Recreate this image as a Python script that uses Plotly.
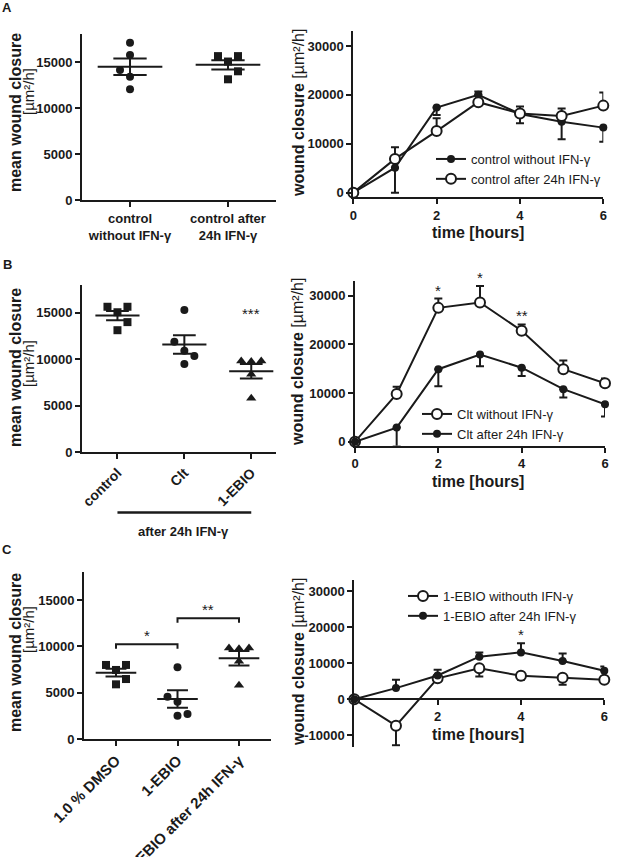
import numpy as np
import plotly.graph_objects as go

W, H = 620, 857
FONT = "Liberation Sans, Arial, Helvetica, sans-serif"
INK = "#1a1a1a"

# ---------------- DATA ----------------
# Panel A, left: individual mean wound closure values (µm²/h)
A_CATS = ["control<br>without IFN-γ", "control after<br>24h IFN-γ"]
A_WITHOUT = [12030, 13400, 14130, 15760, 17100]
A_AFTER = [13120, 13990, 15050, 15640, 15640]

# Panel A, right: time course (mean, SEM)
TIME = [0, 1, 2, 3, 4, 5, 6]
A_TS_WITHOUT = [0, 5100, 17400, 20000, 16100, 14500, 13300]
A_TS_WITHOUT_SEM = [0, 5100, 1500, 1000, 1900, 3600, 2900]
A_TS_AFTER = [0, 6900, 12600, 18500, 16200, 15700, 17800]
A_TS_AFTER_SEM = [0, 2400, 2600, 2200, 1400, 1500, 2700]

# Panel B, left
B_CATS = ["control", "Clt", "1-EBIO"]
B_CONTROL = [13120, 13990, 15050, 15640, 15640]
B_CLT = [9490, 10350, 10920, 11880, 15290]
B_EBIO = [5800, 8380, 9750, 9810, 9810]
B_SIG = ["", "*", "***"]
B_SIG_Y = [None, 18400, 14900]

# Panel B, right
B_TS_WITHOUT = [0, 9800, 27500, 28600, 22800, 14900, 12000]
B_TS_WITHOUT_SEM = [0, 1500, 1900, 3400, 1300, 1800, 1000]
B_TS_AFTER = [0, 2900, 14900, 17900, 15200, 10800, 7700]
B_TS_AFTER_SEM = [0, 3900, 3500, 2400, 1700, 1700, 2500]
B_TS_SIG = ["", "", "*", "*", "**", "", ""]

# Panel C, left
C_CATS = ["1.0 % DMSO", "1-EBIO", "1-EBIO after 24h IFN-γ"]
C_DMSO = [5900, 6470, 7450, 7990, 7990]
C_EBIO = [2520, 2700, 4030, 4570, 7740]
C_EBIO_IFN = [5800, 8380, 9750, 9810, 9810]
C_BRACKETS = [(0, 1, "*", 10220), (1, 2, "**", 13020)]

# Panel C, right
C_TS_WITHOUT = [0, -7300, 5800, 8600, 6500, 6000, 5400]
C_TS_WITHOUT_SEM = [0, 5400, 800, 2300, 1100, 2000, 600]
C_TS_AFTER = [0, 3100, 6600, 11800, 13000, 10600, 7900]
C_TS_AFTER_SEM = [0, 2300, 1600, 1200, 2500, 2100, 1200]
C_TS_SIG = ["", "", "", "", "*", "", ""]

# ---------------- GEOMETRY (pixels) ----------------
GEO = {
    1: dict(x=(82, 276), y=(34.4, 200.0), xr=(-0.49, 1.49), yr=(0, 18000)),
    2: dict(x=(353.3, 603.3), y=(31.3, 197.3), xr=(0, 6), yr=(-950, 33000)),
    3: dict(x=(82, 276), y=(284.8, 452.3), xr=(-0.53, 2.37), yr=(0, 18000)),
    4: dict(x=(355, 605), y=(281.1, 445.7), xr=(0, 6), yr=(-820, 33000)),
    5: dict(x=(84, 271), y=(572.2, 739.0), xr=(-0.52, 2.52), yr=(0, 18000)),
    6: dict(x=(354.3, 604.3), y=(580, 746.7), xr=(0, 6), yr=(-13130, 33050)),
}


def xdom(g):
    return [g["x"][0] / W, g["x"][1] / W]


def ydom(g):
    return [1 - g["y"][1] / H, 1 - g["y"][0] / H]


def axname(i):
    return ("x" if i == 1 else f"x{i}", "y" if i == 1 else f"y{i}")


def px_per_y(g):
    return (g["y"][1] - g["y"][0]) / (g["yr"][1] - g["yr"][0])


def px_per_x(g):
    return (g["x"][1] - g["x"][0]) / (g["xr"][1] - g["xr"][0])


def val_to_py(g, v):
    return g["y"][1] - (v - g["yr"][0]) * px_per_y(g)


fig = go.Figure()

# ---------------- scatter (dot) panels ----------------
def swarm(values, g, first_side=1, d_px=10.0, thr_px=10.0):
    """Greedy beeswarm: place points at centre, else shift sideways."""
    ky = px_per_y(g)
    kx = px_per_x(g)
    order = np.argsort(values, kind="stable")
    placed = []
    offs = [0.0] * len(values)
    side = first_side
    for i in order:
        y = values[i] * ky
        chosen = 0
        for c in [0, side, -side, 2 * side, -2 * side]:
            x = c * d_px
            if all(np.hypot(x - px_, y - py_) >= thr_px for px_, py_ in placed):
                chosen = c
                break
        if chosen != 0:
            side = -side
        placed.append((chosen * d_px, y))
        offs[i] = chosen * d_px / kx
    return offs


def dot_panel(idx, groups, symbols, first_sides):
    g = GEO[idx]
    xa, ya = axname(idx)
    for i, (vals, sym, fs) in enumerate(zip(groups, symbols, first_sides)):
        offs = swarm(vals, g, fs)
        size = 9 if "triangle" in sym else 8
        fig.add_trace(go.Scatter(
            x=[i + o for o in offs], y=vals, mode="markers",
            marker=dict(symbol=sym, size=size, color=INK, line=dict(width=0)),
            xaxis=xa, yaxis=ya, showlegend=False, cliponaxis=False, hoverinfo="skip"))
        m = float(np.mean(vals))
        s = float(np.std(vals, ddof=1) / np.sqrt(len(vals)))
        fig.add_trace(go.Scatter(
            x=[i - 0.33, i + 0.33], y=[m, m], mode="lines",
            line=dict(color=INK, width=2), xaxis=xa, yaxis=ya,
            showlegend=False, hoverinfo="skip"))
        fig.add_trace(go.Scatter(
            x=[i - 0.17, i + 0.17, None, i, i, None, i - 0.17, i + 0.17],
            y=[m + s, m + s, None, m + s, m - s, None, m - s, m - s],
            mode="lines", line=dict(color=INK, width=2), xaxis=xa, yaxis=ya,
            showlegend=False, hoverinfo="skip"))


dot_panel(1, [A_WITHOUT, A_AFTER], ["circle", "square"], [-1, 1])
dot_panel(3, [B_CONTROL, B_CLT, B_EBIO], ["square", "circle", "triangle-up"], [1, 1, 1])
dot_panel(5, [C_DMSO, C_EBIO, C_EBIO_IFN], ["square", "circle", "triangle-up"], [1, 1, 1])


# ---------------- time-course panels ----------------
def ts_trace(idx, y, sem, filled, up, name, legend):
    xa, ya = axname(idx)
    n = len(y)
    zeros = [0] * n
    marker = dict(symbol="circle", size=8 if filled else 10,
                  color=INK if filled else "white",
                  line=dict(color=INK, width=0 if filled else 2))
    fig.add_trace(go.Scatter(
        x=TIME, y=y, mode="lines+markers", name=name,
        line=dict(color=INK, width=2), marker=marker,
        error_y=dict(type="data", symmetric=False,
                     array=sem if up else zeros,
                     arrayminus=zeros if up else sem,
                     color=INK, thickness=2, width=4),
        xaxis=xa, yaxis=ya, legend=legend, cliponaxis=False, hoverinfo="skip"))


ts_trace(2, A_TS_WITHOUT, A_TS_WITHOUT_SEM, True, False, "control without IFN-γ", "legend")
ts_trace(2, A_TS_AFTER, A_TS_AFTER_SEM, False, True, "control after 24h IFN-γ", "legend")
ts_trace(4, B_TS_WITHOUT, B_TS_WITHOUT_SEM, False, True, "Clt without IFN-γ", "legend2")
ts_trace(4, B_TS_AFTER, B_TS_AFTER_SEM, True, False, "Clt after 24h IFN-γ", "legend2")
ts_trace(6, C_TS_WITHOUT, C_TS_WITHOUT_SEM, False, False, "1-EBIO withouth IFN-γ", "legend3")
ts_trace(6, C_TS_AFTER, C_TS_AFTER_SEM, True, True, "1-EBIO after 24h IFN-γ", "legend3")

# ---------------- axes ----------------
tickfont = dict(family=FONT, size=13, color=INK, weight="bold")


def yaxis(idx, tickvals):
    g = GEO[idx]
    return dict(domain=ydom(g), range=list(g["yr"]), tickvals=tickvals,
                ticktext=[str(v) for v in tickvals], showline=True, linecolor=INK,
                linewidth=2, ticks="outside", ticklen=5, tickwidth=2, tickcolor=INK,
                tickfont=tickfont, showgrid=False, zeroline=False, automargin=False,
                anchor=axname(idx)[0], fixedrange=True)


def xaxis(idx, tickvals, ticktext, angle=0, size=13):
    g = GEO[idx]
    return dict(domain=xdom(g), range=list(g["xr"]), tickvals=tickvals, ticktext=ticktext,
                showline=True, linecolor=INK, linewidth=2, ticks="outside", ticklen=5,
                tickwidth=2, tickcolor=INK, tickangle=angle,
                tickfont=dict(family=FONT, size=size, color=INK, weight="bold"),
                showgrid=False, zeroline=False, automargin=False,
                anchor=axname(idx)[1], fixedrange=True)


left_ticks = [0, 5000, 10000, 15000]
layout = dict(
    width=W, height=H, margin=dict(l=0, r=0, t=0, b=0, pad=0, autoexpand=False),
    paper_bgcolor="white", plot_bgcolor="white",
    font=dict(family=FONT, color=INK),
    xaxis=xaxis(1, [0, 1], A_CATS),
    yaxis=yaxis(1, left_ticks),
    xaxis2=xaxis(2, [0, 2, 4, 6], ["0", "2", "4", "6"]),
    yaxis2=yaxis(2, [0, 10000, 20000, 30000]),
    xaxis3=xaxis(3, [0, 1, 2], B_CATS, angle=-45, size=14),
    yaxis3=yaxis(3, left_ticks),
    xaxis4=xaxis(4, [0, 2, 4, 6], ["0", "2", "4", "6"]),
    yaxis4=yaxis(4, [0, 10000, 20000, 30000]),
    xaxis5=xaxis(5, [0, 1, 2], C_CATS, angle=-45, size=15),
    yaxis5=yaxis(5, left_ticks),
    xaxis6=xaxis(6, [2, 4, 6], ["2", "4", "6"]),
    yaxis6=yaxis(6, [-10000, 0, 10000, 20000, 30000]),
)
# C right: x axis crosses at y = 0
g6 = GEO[6]
layout["xaxis6"]["anchor"] = "free"
layout["xaxis6"]["position"] = 1 - val_to_py(g6, 0) / H

legend_common = dict(bgcolor="rgba(0,0,0,0)", font=dict(family=FONT, size=13, color=INK),
                     itemwidth=30, xanchor="left", yanchor="top", tracegroupgap=0)
layout["legend"] = dict(legend_common, x=431 / W, y=1 - 144 / H)
layout["legend2"] = dict(legend_common, x=417 / W, y=1 - 399 / H)
layout["legend3"] = dict(legend_common, x=403 / W, y=1 - 581 / H)
fig.update_layout(**layout)

# ---------------- annotations ----------------
ann = []


def paper_text(text, px, py, size, angle=0, bold=False, xanchor="center"):
    ann.append(dict(text=text, x=px / W, y=1 - py / H, xref="paper", yref="paper",
                    showarrow=False, textangle=angle, xanchor=xanchor, yanchor="middle",
                    font=dict(family=FONT, size=size, color=INK,
                              weight="bold" if bold else "normal")))


# panel letters
paper_text("<b>A</b>", 7, 8, 13)
paper_text("<b>B</b>", 7, 264, 13)
paper_text("<b>C</b>", 7, 549, 13)

# y titles (left)
paper_text("<b>mean wound closure</b>", 15, 113, 16, angle=-90)
paper_text("[µm²/h]", 28, 92, 15, angle=-90)
paper_text("<b>mean wound closure</b>", 15, 368, 16, angle=-90)
paper_text("[µm²/h]", 28, 364, 15, angle=-90)
paper_text("<b>mean wound closure</b>", 15, 653, 16, angle=-90)
paper_text("[µm²/h]", 28, 630, 15, angle=-90)

# y titles (right)
for cy in [113, 362, 662]:
    paper_text("<b>wound closure</b> [µm²/h]", 298, cy, 16, angle=-90)

# x titles (right)
for cy in [232, 481, 734]:
    paper_text("<b>time [hours]</b>", 478, cy, 16)

# B left: group label underline
paper_text("<b>after 24h IFN-γ</b>", 183, 531, 13)
fig.add_shape(type="line", xref="x3", yref="paper", x0=0, x1=2,
              y0=1 - 512.5 / H, y1=1 - 512.5 / H, line=dict(color=INK, width=2.5))

# B left stars
for i, (s, yv) in enumerate(zip(B_SIG, B_SIG_Y)):
    if s:
        ann.append(dict(text=s, x=i, y=yv, xref="x3", yref="y3", showarrow=False,
                        font=dict(family=FONT, size=15, color=INK)))

# C left brackets
g5 = GEO[5]
drop = 4.5 / px_per_y(g5)
for a, b, s, yv in C_BRACKETS:
    fig.add_shape(type="path", xref="x5", yref="y5",
                  path=f"M {a},{yv - drop} L {a},{yv} L {b},{yv} L {b},{yv - drop}",
                  line=dict(color=INK, width=2))
    ann.append(dict(text=s, x=(a + b) / 2, y=yv, xref="x5", yref="y5", showarrow=False,
                    yanchor="bottom", yshift=-2, font=dict(family=FONT, size=15, color=INK)))

# time-course stars (above the upper error bar)
for sigs, ys, sems, idx in [(B_TS_SIG, B_TS_WITHOUT, B_TS_WITHOUT_SEM, 4),
                            (C_TS_SIG, C_TS_AFTER, C_TS_AFTER_SEM, 6)]:
    xa, ya = axname(idx)
    for t, s, yv, se in zip(TIME, sigs, ys, sems):
        if s:
            ann.append(dict(text=s, x=t, y=yv + se, xref=xa, yref=ya, showarrow=False,
                            yanchor="bottom", yshift=-2,
                            font=dict(family=FONT, size=15, color=INK)))

fig.update_layout(annotations=ann)
fig.write_html("out.html")
